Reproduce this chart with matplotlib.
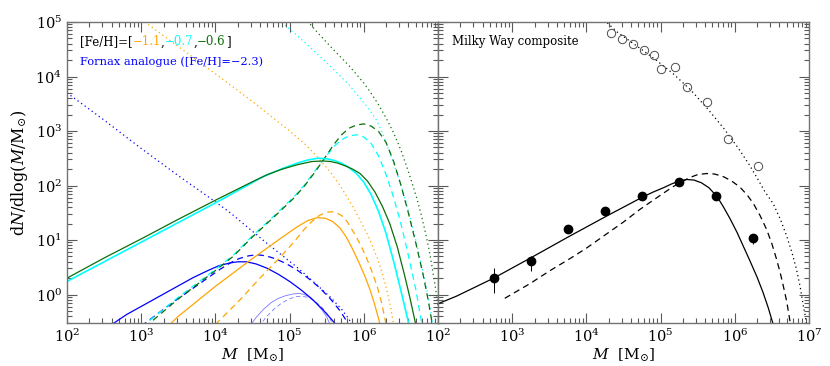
import numpy as np
import matplotlib
matplotlib.use('Agg')
import matplotlib.pyplot as plt
from matplotlib.ticker import LogLocator, NullFormatter, FixedLocator, FixedFormatter

plt.rcParams['font.family'] = ['DejaVu Serif']
plt.rcParams['mathtext.fontset'] = 'dejavuserif'

# ---- data: log10(M), log10(dN/dlogM) ----
# left panel, [Fe/H] = -1.1 (orange)
or_sol_m = [3.35, 3.5, 4.0, 4.5, 4.9, 5.1, 5.25, 5.37, 5.48, 5.58, 5.68, 5.77, 5.85, 5.93, 6.02, 6.08, 6.14, 6.2, 6.23]
or_sol_y = [-0.6, -0.4, 0.15, 0.66, 1.05, 1.24, 1.36, 1.41, 1.40, 1.34, 1.22, 1.04, 0.83, 0.60, 0.32, 0.10, -0.15, -0.45, -0.62]
or_das_m = [4.0, 4.33, 4.6, 4.85, 5.05, 5.2, 5.3, 5.4, 5.5, 5.6, 5.7, 5.78, 5.85, 5.95, 6.04, 6.11, 6.18, 6.24, 6.3]
or_das_y = [-0.55, -0.1, 0.3, 0.65, 0.95, 1.2, 1.34, 1.45, 1.51, 1.52, 1.45, 1.33, 1.17, 0.93, 0.66, 0.42, 0.15, -0.15, -0.55]
or_dot_m = [3.0, 3.5, 4.0, 4.5, 5.0, 5.2, 5.37, 5.53, 5.68, 5.85, 6.04, 6.12, 6.19, 6.25, 6.31, 6.36, 6.40]
or_dot_y = [5.05, 4.55, 4.05, 3.54, 3.0, 2.77, 2.53, 2.28, 2.0, 1.62, 1.13, 0.88, 0.64, 0.38, 0.08, -0.22, -0.55]

# [Fe/H] = -0.7 (cyan)
cy_sol_m = [2.0, 2.5, 3.0, 3.5, 4.0, 4.2, 4.64, 4.9, 5.1, 5.25, 5.38, 5.5, 5.6, 5.7, 5.8, 5.9, 6.0, 6.1, 6.2, 6.3, 6.4, 6.5, 6.57, 6.62]
cy_sol_y = [0.24, 0.60, 0.96, 1.32, 1.68, 1.83, 2.16, 2.31, 2.41, 2.47, 2.50, 2.49, 2.46, 2.41, 2.33, 2.22, 2.06, 1.83, 1.52, 1.12, 0.62, 0.07, -0.33, -0.62]
cy_das_m = [3.0, 3.5, 4.0, 4.24, 4.51, 4.78, 5.05, 5.2, 5.35, 5.5, 5.6, 5.7, 5.8, 5.9, 6.0, 6.1, 6.2, 6.3, 6.4, 6.5, 6.6, 6.7, 6.77, 6.79]
cy_das_y = [-0.6, -0.05, 0.46, 0.72, 1.09, 1.43, 1.78, 2.01, 2.28, 2.55, 2.72, 2.84, 2.91, 2.93, 2.89, 2.77, 2.54, 2.20, 1.79, 1.30, 0.72, 0.10, -0.45, -0.6]
cy_dot_m = [4.8, 5.0, 5.2, 5.4, 5.6, 5.8, 5.97, 6.07, 6.17, 6.25, 6.33, 6.41, 6.49, 6.56, 6.62, 6.68, 6.73, 6.78, 6.83, 6.9, 6.94]
cy_dot_y = [5.1, 4.87, 4.63, 4.38, 4.12, 3.85, 3.57, 3.4, 3.2, 2.97, 2.68, 2.37, 2.05, 1.74, 1.43, 1.12, 0.82, 0.52, 0.22, -0.3, -0.6]

# [Fe/H] = -0.6 (green)
gr_sol_m = [2.0, 2.5, 3.0, 3.5, 4.0, 4.5, 4.7, 4.9, 5.1, 5.3, 5.45, 5.55, 5.65, 5.75, 5.85, 5.95, 6.05, 6.15, 6.25, 6.35, 6.45, 6.55, 6.62, 6.7]
gr_sol_y = [0.30, 0.67, 1.02, 1.38, 1.73, 2.07, 2.20, 2.30, 2.38, 2.44, 2.45, 2.44, 2.41, 2.36, 2.30, 2.22, 2.08, 1.88, 1.62, 1.30, 0.88, 0.35, -0.05, -0.55]
gr_das_m = [3.05, 3.5, 4.0, 4.24, 4.51, 4.78, 5.05, 5.2, 5.35, 5.5, 5.6, 5.7, 5.8, 5.9, 6.0, 6.1, 6.2, 6.3, 6.4, 6.5, 6.6, 6.7, 6.8, 6.87, 6.93]
gr_das_y = [-0.6, -0.08, 0.44, 0.70, 1.07, 1.41, 1.76, 1.99, 2.26, 2.56, 2.76, 2.93, 3.05, 3.11, 3.13, 3.09, 2.99, 2.79, 2.45, 2.01, 1.50, 0.95, 0.36, -0.12, -0.6]
gr_dot_m = [5.2, 5.4, 5.6, 5.8, 6.0, 6.1, 6.2, 6.3, 6.4, 6.5, 6.58, 6.65, 6.72, 6.78, 6.83, 6.88, 6.92, 6.96, 6.99, 7.03]
gr_dot_y = [5.08, 4.77, 4.48, 4.20, 3.88, 3.69, 3.48, 3.24, 2.97, 2.65, 2.34, 2.05, 1.74, 1.43, 1.14, 0.82, 0.51, 0.17, -0.09, -0.5]

# Fornax analogue (blue)
bl_sol_m = [2.55, 2.8, 3.25, 3.7, 3.9, 4.05, 4.2, 4.3, 4.42, 4.55, 4.7, 4.85, 5.0, 5.15, 5.3, 5.45, 5.58, 5.65]
bl_sol_y = [-0.6, -0.37, -0.03, 0.31, 0.44, 0.53, 0.58, 0.60, 0.60, 0.56, 0.48, 0.37, 0.24, 0.09, -0.08, -0.28, -0.48, -0.6]
bl_das_m = [3.0, 3.4, 3.83, 4.06, 4.2, 4.32, 4.45, 4.56, 4.68, 4.8, 4.95, 5.1, 5.25, 5.4, 5.55, 5.68, 5.77, 5.82]
bl_das_y = [-0.58, -0.17, 0.24, 0.46, 0.58, 0.66, 0.71, 0.73, 0.71, 0.66, 0.57, 0.45, 0.30, 0.13, -0.08, -0.30, -0.49, -0.6]
bl_dot_m = [2.0, 2.5, 3.0, 3.5, 4.0, 4.2, 4.64, 5.1, 5.3, 5.55, 5.7, 5.8, 5.86]
bl_dot_y = [3.7, 3.2, 2.68, 2.18, 1.7, 1.5, 1.0, 0.5, 0.26, -0.05, -0.27, -0.45, -0.6]
bl_thin_sol_m = [4.45, 4.55, 4.65, 4.75, 4.85, 4.95, 5.05, 5.13, 5.2, 5.28, 5.36, 5.44, 5.5, 5.56]
bl_thin_sol_y = [-0.6, -0.42, -0.27, -0.15, -0.07, -0.02, 0.01, 0.02, 0.0, -0.06, -0.16, -0.29, -0.41, -0.6]
bl_thin_das_m = [4.58, 4.68, 4.78, 4.88, 4.98, 5.08, 5.17, 5.26, 5.35, 5.45, 5.53, 5.6]
bl_thin_das_y = [-0.6, -0.42, -0.28, -0.17, -0.09, -0.04, -0.03, -0.06, -0.13, -0.26, -0.4, -0.6]

# right panel, Milky Way composite
mw_sol_m = [2.0, 2.25, 2.75, 3.26, 3.76, 4.26, 4.76, 4.9, 5.04, 5.15, 5.25, 5.35, 5.45, 5.55, 5.65, 5.76, 5.85, 5.94, 6.03, 6.11, 6.2, 6.3, 6.38, 6.45, 6.52, 6.54]
mw_sol_y = [-0.17, -0.03, 0.30, 0.68, 1.06, 1.43, 1.79, 1.88, 1.96, 2.03, 2.08, 2.11, 2.10, 2.05, 1.96, 1.80, 1.60, 1.38, 1.14, 0.90, 0.63, 0.32, 0.04, -0.24, -0.56, -0.65]
mw_das_m = [2.90, 3.24, 3.5, 3.78, 4.0, 4.26, 4.5, 4.72, 4.9, 5.05, 5.17, 5.3, 5.40, 5.5, 5.62, 5.73, 5.85, 5.96, 6.07, 6.17, 6.25, 6.34, 6.43, 6.5, 6.56, 6.61, 6.65, 6.7, 6.74, 6.76]
mw_das_y = [-0.07, 0.2, 0.43, 0.66, 0.85, 1.1, 1.33, 1.56, 1.73, 1.87, 1.98, 2.08, 2.15, 2.2, 2.22, 2.21, 2.16, 2.08, 1.97, 1.82, 1.67, 1.45, 1.19, 0.93, 0.66, 0.41, 0.18, -0.13, -0.46, -0.62]
mw_dot_m = [4.2, 4.27, 4.41, 4.72, 4.95, 5.17, 5.40, 5.62, 5.85, 6.05, 6.2, 6.3, 6.4, 6.52, 6.62, 6.70, 6.77, 6.83, 6.88, 6.92, 6.95, 6.97]
mw_dot_y = [5.1, 5.0, 4.82, 4.52, 4.29, 4.05, 3.76, 3.43, 3.05, 2.68, 2.37, 2.14, 1.9, 1.66, 1.36, 1.07, 0.77, 0.47, 0.15, -0.18, -0.4, -0.6]

# open circles
circ_m = [4.327, 4.476, 4.624, 4.776, 4.915, 5.005, 5.194, 5.36, 5.629, 5.912, 6.317]
circ_y = [4.793, 4.689, 4.592, 4.487, 4.39, 4.139, 4.176, 3.81, 3.54, 2.857, 2.35]

# filled points with error bars
pt_m = [2.75, 3.25, 3.75, 4.25, 4.75, 5.25, 5.75, 6.25]
pt_y = [0.31, 0.62, 1.21, 1.54, 1.80, 2.07, 1.80, 1.03]
pt_lo = [0.036, 0.43, 1.17, 1.51, 1.78, 2.05, 1.78, 0.92]
pt_hi = [0.49, 0.71, 1.25, 1.57, 1.82, 2.09, 1.82, 1.10]

C_OR = '#ffa500'
C_CY = '#00ffff'
C_GR = '#0b6e0b'
C_BL = '#0000ff'
C_BL2 = '#7878ff'

DASH = (0, (5, 3.5))
DOT = (0, (1, 2.5))


def curve(ax, lm, ly, **kw):
    ax.plot(10 ** np.array(lm), 10 ** np.array(ly), **kw)


def setup(ax, labels):
    ax.set_xscale('log')
    ax.set_yscale('log')
    ax.set_xlim(1e2, 1e7)
    ax.set_ylim(0.3, 1e5)
    ax.xaxis.set_major_locator(FixedLocator([1e2, 1e3, 1e4, 1e5, 1e6, 1e7]))
    ax.xaxis.set_major_formatter(FixedFormatter(labels))
    ax.xaxis.set_minor_locator(LogLocator(base=10, subs=np.arange(2, 10), numticks=20))
    ax.xaxis.set_minor_formatter(NullFormatter())
    ax.yaxis.set_major_locator(LogLocator(base=10, numticks=20))
    ax.yaxis.set_minor_locator(LogLocator(base=10, subs=np.arange(2, 10), numticks=20))
    ax.yaxis.set_minor_formatter(NullFormatter())
    ax.tick_params(which='both', direction='in', top=True, right=True,
                   colors='0.35', labelcolor='k', labelsize=10.5, width=0.8)
    ax.tick_params(which='major', length=7)
    ax.tick_params(which='minor', length=3.5)
    for s in ax.spines.values():
        s.set_color('0.45')
        s.set_linewidth(1.0)
    ax.set_xlabel(r'$M\ \ [\mathrm{M}_{\odot}]$', fontsize=11, labelpad=1)


fig = plt.figure(figsize=(8.3, 3.66), dpi=100)
ax1 = fig.add_axes([67 / 830, 43 / 366, 371 / 830, 301 / 366])
ax2 = fig.add_axes([438 / 830, 43 / 366, 371 / 830, 301 / 366])

setup(ax1, [r'$10^{2}$', r'$10^{3}$', r'$10^{4}$', r'$10^{5}$', r'$10^{6}$', ''])
setup(ax2, [r'$10^{2}$', r'$10^{3}$', r'$10^{4}$', r'$10^{5}$', r'$10^{6}$', r'$10^{7}$'])
ax2.tick_params(labelleft=False)
ax1.set_ylabel(r'$\mathrm{d}N/\mathrm{dlog}(M/\mathrm{M}_{\odot})$', fontsize=11.5)
ax1.yaxis.set_label_coords(-0.1, 0.5)

lw = 0.9
# left panel curves
curve(ax1, bl_dot_m, bl_dot_y, color=C_BL, lw=lw, ls=DOT)
curve(ax1, or_dot_m, or_dot_y, color=C_OR, lw=lw, ls=DOT)
curve(ax1, cy_dot_m, cy_dot_y, color=C_CY, lw=lw, ls=DOT)
curve(ax1, gr_dot_m, gr_dot_y, color=C_GR, lw=lw, ls=DOT)
curve(ax1, bl_thin_sol_m, bl_thin_sol_y, color=C_BL2, lw=0.6)
curve(ax1, bl_thin_das_m, bl_thin_das_y, color=C_BL2, lw=0.6, ls=DASH)
curve(ax1, bl_das_m, bl_das_y, color=C_BL, lw=lw, ls=DASH)
curve(ax1, bl_sol_m, bl_sol_y, color=C_BL, lw=lw)
curve(ax1, or_das_m, or_das_y, color=C_OR, lw=lw, ls=DASH)
curve(ax1, or_sol_m, or_sol_y, color=C_OR, lw=lw)
curve(ax1, cy_das_m, cy_das_y, color=C_CY, lw=lw, ls=DASH)
curve(ax1, gr_das_m, gr_das_y, color=C_GR, lw=lw, ls=DASH)
curve(ax1, cy_sol_m, cy_sol_y, color=C_CY, lw=1.2)
curve(ax1, gr_sol_m, gr_sol_y, color=C_GR, lw=lw)

# multicolour label
parts = [('[Fe/H]=[', 'k'), ('\u22121.1', C_OR), (',', 'k'), ('\u22120.7', C_CY),
         (',', 'k'), ('\u22120.6', C_GR), (']', 'k')]
prev = ax1.text(0.035, 0.934, parts[0][0], color=parts[0][1], transform=ax1.transAxes,
                fontsize=8.5, va='center', ha='left')
for s, c in parts[1:]:
    prev = ax1.annotate(s, xy=(1, 0), xycoords=prev, va='bottom', ha='left',
                        color=c, fontsize=8.5)
ax1.text(0.035, 0.867, 'Fornax analogue ([Fe/H]=\u22122.3)', color=C_BL,
         transform=ax1.transAxes, fontsize=8.2, va='center', ha='left')

# right panel
curve(ax2, mw_dot_m, mw_dot_y, color='k', lw=lw, ls=DOT)
curve(ax2, mw_das_m, mw_das_y, color='k', lw=lw, ls=DASH)
curve(ax2, mw_sol_m, mw_sol_y, color='k', lw=lw)
ax2.plot(10 ** np.array(circ_m), 10 ** np.array(circ_y), 'o', mfc='none', mec='0.3',
         ms=6, mew=0.7)
py = 10 ** np.array(pt_y)
yerr = [py - 10 ** np.array(pt_lo), 10 ** np.array(pt_hi) - py]
ax2.errorbar(10 ** np.array(pt_m), py, yerr=yerr, fmt='o', color='k', ms=6,
             elinewidth=0.7, capsize=0)
ax2.text(0.038, 0.934, 'Milky Way composite', color='k', transform=ax2.transAxes,
         fontsize=8.5, va='center', ha='left')

fig.savefig('out.png', dpi=100)
